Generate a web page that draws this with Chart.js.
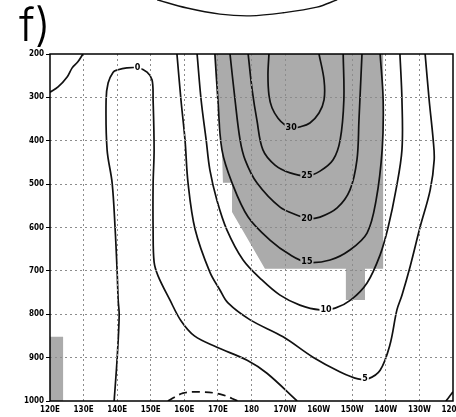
<!DOCTYPE html>
<html>
<head>
<meta charset="utf-8">
<script src="https://cdn.jsdelivr.net/npm/chart.js@4.4.0/dist/chart.umd.min.js"></script>
<style>
  html, body { margin: 0; padding: 0; background: #fff; }
</style>
</head>
<body>
<canvas id="chart" width="456" height="417"></canvas>
<script>
// axes: longitude in degrees east (120E .. 120W = 240), pressure in hPa
const xTicks = [120, 130, 140, 150, 160, 170, 180, 190, 200, 210, 220, 230, 240];
const xTickLabels = ['120E', '130E', '140E', '150E', '160E', '170E', '180', '170W', '160W', '150W', '140W', '130W', '120W'];
const yTicks = [200, 300, 400, 500, 600, 700, 800, 900, 1000];

// contour lines, as [lon, hPa]
const contourCorner = [[120, 288], [122.4, 276], [125.1, 253], [126.6, 232], [128.3, 218], [129.8, 200]];
const contour0 = [[139.1, 1000], [140.0, 901], [140.6, 802], [140.3, 767], [140.0, 703], [139.4, 604], [138.5, 497],
  [137.0, 421], [136.7, 306], [137.3, 267], [138.8, 242], [140.0, 237], [142.9, 232], [146.2, 232], [148.9, 242],
  [150.4, 260], [150.7, 306], [151.0, 421], [150.7, 500], [150.7, 604], [151.0, 680], [152.2, 712], [155.7, 767],
  [159.0, 815], [163.0, 850], [169.7, 876], [178.7, 906], [184.6, 936], [193.6, 1000]];
const contour5 = [[157.8, 200], [159.0, 306], [160.2, 398], [161.1, 497], [163.2, 604], [167.6, 703], [170.6, 744],
  [173.0, 774], [179.6, 813], [189.4, 852], [198.3, 899], [206.4, 933], [211.7, 949], [214.7, 949], [218.3, 929],
  [221.2, 871], [223.3, 790], [224.8, 756], [227.2, 691], [230.2, 599], [233.2, 514], [234.4, 444], [234.1, 398],
  [232.9, 306], [231.7, 200]];
const contour10 = [[163.8, 200], [165.0, 306], [166.5, 398], [167.6, 467], [169.7, 537], [172.7, 606], [177.5, 675],
  [183.1, 721], [188.5, 756], [194.4, 779], [200.4, 790], [204.9, 786], [209.6, 767], [214.4, 728], [218.3, 663],
  [220.7, 599], [223.0, 514], [224.8, 421], [224.8, 306], [224.2, 200]];
const contour15 = [[169.1, 200], [170.0, 306], [171.2, 421], [174.2, 497], [179.0, 576], [185.5, 629], [191.5, 663],
  [196.5, 680], [203.4, 675], [209.3, 652], [214.4, 613], [217.1, 537], [218.9, 421], [219.2, 306], [218.3, 200]];
const contour20 = [[173.6, 200], [175.1, 306], [176.6, 398], [178.1, 444], [181.6, 497], [188.5, 553], [194.4, 574],
  [196.5, 580], [200.4, 576], [205.5, 555], [209.3, 514], [211.4, 444], [212.0, 352], [212.9, 200]];
const contour25 = [[179.0, 200], [180.2, 283], [181.6, 352], [183.4, 421], [187.0, 456], [191.5, 474], [196.5, 481],
  [200.4, 470], [204.3, 444], [206.4, 398], [207.5, 306], [207.3, 200]];
const contour30 = [[185.2, 200], [184.9, 248], [185.2, 295], [186.1, 324], [187.9, 348], [190.0, 364], [191.8, 371],
  [194.4, 368], [197.4, 359], [200.1, 336], [201.6, 306], [201.6, 260], [200.1, 200]];
const contourNeg = [[155.1, 1000], [159.6, 982], [164.7, 979], [170.6, 984], [176.0, 1000]];
const contourEdge = [[237.9, 1000], [239.1, 988], [240, 979]];
// bottom of the panel above, which reaches into this one
const panelAbove = [[151.9, 75], [160.8, 94], [170.6, 108], [179.6, 112], [189.4, 105], [199.5, 92], [205.5, 75]];

// shaded (significant) areas
const shadeMain = [[169.1, 200], [170.0, 306], [171.2, 421], [171.5, 497], [174.2, 497], [174.2, 564], [184.0, 695],
  [208.1, 695], [208.1, 767], [213.8, 767], [213.8, 695], [219.2, 695], [219.2, 200], [169.1, 200]];
const shadeWest = [[120, 852], [123.9, 852], [123.9, 1000], [120, 1000], [120, 852]];

// contour labels
const labelText = ['0', '30', '25', '20', '15', '10', '5'];
const labelLon = [146.1, 191.8, 196.5, 196.5, 196.5, 202.2, 213.8];
const labelP = [232, 371, 481, 580, 680, 790, 949];

const toXY = pts => pts.map(p => ({x: p[0], y: p[1]}));

function contour(pts, extra) {
    return Object.assign({
        data: toXY(pts),
        showLine: true,
        borderColor: '#111',
        borderWidth: 1.7,
        pointRadius: 0,
        tension: 0.35,
        fill: false
    }, extra || {});
}

function shade(pts) {
    return {
        data: toXY(pts),
        showLine: true,
        borderColor: 'rgba(0,0,0,0)',
        borderWidth: 0,
        backgroundColor: '#ababab',
        pointRadius: 0,
        tension: 0,
        fill: 'shape'
    };
}

const frameAndLabels = {
    id: 'frameAndLabels',
    afterDraw(chart) {
        const {ctx, chartArea: a, scales} = chart;
        ctx.save();
        // contour value labels
        ctx.font = 'bold 8px "DejaVu Sans", sans-serif';
        ctx.textAlign = 'center';
        ctx.textBaseline = 'middle';
        labelText.forEach((t, i) => {
            const px = scales.x.getPixelForValue(labelLon[i]);
            const py = scales.y.getPixelForValue(labelP[i]);
            const w = ctx.measureText(t).width + 2;
            ctx.fillStyle = (t === '0' || t === '5' || t === '10') ? '#fff' : '#ababab';
            ctx.fillRect(px - w / 2, py - 4, w, 8);
            ctx.fillStyle = '#000';
            ctx.fillText(t, px, py);
        });
        // frame
        ctx.strokeStyle = '#000';
        ctx.lineWidth = 1.5;
        ctx.strokeRect(a.left, a.top, a.right - a.left, a.bottom - a.top);
        // panel letter
        ctx.font = '300 46px Inter, "Open Sans", sans-serif';
        ctx.textAlign = 'left';
        ctx.textBaseline = 'alphabetic';
        ctx.fillStyle = '#000';
        ctx.fillText('f)', 19, 41);
        ctx.restore();
    }
};

const gridColor = ctx => (ctx.tick && (ctx.tick.value === 120 || ctx.tick.value === 240 ||
    ctx.tick.value === 200 || ctx.tick.value === 1000)) ? 'rgba(0,0,0,0)' : '#8c8c8c';

new Chart(document.getElementById('chart'), {
    type: 'scatter',
    data: {
        datasets: [
            contour(contourCorner),
            contour(contour0),
            contour(contour5),
            contour(contour10),
            contour(contour15),
            contour(contour20),
            contour(contour25),
            contour(contour30),
            contour(contourNeg, {borderDash: [8, 5]}),
            contour(contourEdge),
            contour(panelAbove, {clip: false, borderWidth: 1.4}),
            shade(shadeMain),
            shade(shadeWest)
        ]
    },
    options: {
        responsive: false,
        animation: false,
        layout: {padding: {top: 54, right: 3, left: 0, bottom: 0}},
        plugins: {legend: {display: false}, tooltip: {enabled: false}},
        scales: {
            x: {
                type: 'linear',
                min: 120,
                max: 240,
                afterBuildTicks: s => { s.ticks = xTicks.map(v => ({value: v})); },
                afterFit: s => { s.height = 16; s.paddingLeft = 0; s.paddingRight = 0; },
                grid: {color: gridColor, lineWidth: 1, drawTicks: false, z: 1},
                border: {display: false, dash: [2, 3]},
                ticks: {
                    autoSkip: false,
                    maxRotation: 0,
                    padding: 4,
                    color: '#000',
                    font: {family: '"DejaVu Sans Condensed", "DejaVu Sans", sans-serif', size: 8, weight: 'bold'},
                    callback: v => xTickLabels[xTicks.indexOf(v)]
                }
            },
            y: {
                type: 'linear',
                reverse: true,
                min: 200,
                max: 1000,
                afterBuildTicks: s => { s.ticks = yTicks.map(v => ({value: v})); },
                afterFit: s => { s.width = 50; s.paddingTop = 0; s.paddingBottom = 0; },
                grid: {color: gridColor, lineWidth: 1, tickLength: 4, tickColor: '#000', z: 1},
                border: {display: false, dash: [2, 3]},
                ticks: {
                    padding: 2,
                    color: '#000',
                    font: {family: '"DejaVu Sans Condensed", "DejaVu Sans", sans-serif', size: 8, weight: 'bold'},
                    callback: v => String(v)
                }
            }
        }
    },
    plugins: [frameAndLabels]
});
</script>
</body>
</html>
